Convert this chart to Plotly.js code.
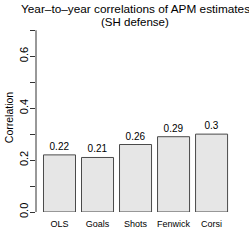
<!DOCTYPE html>
<html>
<head>
<meta charset="utf-8">
<script src="https://cdn.plot.ly/plotly-3.0.1.min.js"></script>
<style>html,body{margin:0;padding:0;background:#fff;}#chart{width:249px;height:249px;}</style>
</head>
<body>
<div id="chart"></div>
<script>
const categories = ["OLS", "Goals", "Shots", "Fenwick", "Corsi"];
const correlations = [0.22, 0.21, 0.26, 0.29, 0.3];
const barLabels = ["0.22", "0.21", "0.26", "0.29", "0.3"];
const titleLines = ["Year\u2013to\u2013year correlations of APM estimates", "(SH defense)"];

const FONT = '"Liberation Sans", Arial, Helvetica, sans-serif';

const trace = {
  type: 'bar',
  x: categories,
  y: correlations,
  text: barLabels,
  textposition: 'outside',
  textfont: {family: FONT, size: 10, color: '#000'},
  cliponaxis: false,
  marker: {color: '#e6e6e6', line: {color: '#4a4a4a', width: 1}},
  hoverinfo: 'none'
};

const layout = {
  width: 249, height: 249,
  margin: {l: 36, r: 15, t: 23, b: 37, pad: 0},
  paper_bgcolor: '#fff', plot_bgcolor: '#fff',
  font: {family: FONT, color: '#000'},
  showlegend: false,
  bargap: 0.158,
  xaxis: {
    type: 'category',
    range: [-0.618, 4.59],
    showline: false, showgrid: false, zeroline: false,
    ticks: '',
    tickfont: {family: FONT, size: 9, color: '#000'},
    ticklabelstandoff: 5
  },
  yaxis: {
    range: [0, 0.728],
    showline: false, showgrid: false, zeroline: false,
    tick0: 0, dtick: 0.2,
    tickformat: '.1f',
    ticks: 'outside', ticklen: 5, tickwidth: 1, tickcolor: '#333',
    minor: {dtick: 0.1, tick0: 0, ticks: 'outside', ticklen: 5, tickwidth: 1, tickcolor: '#333', showgrid: false},
    tickangle: -90,
    ticklabelstandoff: -2,
    tickfont: {family: FONT, size: 11, color: '#000'},
    title: {text: 'Correlation', font: {family: FONT, size: 10.5, color: '#000'}, standoff: 1}
  },
  shapes: [{
    type: 'line', xref: 'paper', yref: 'y',
    x0: 0, x1: 0, y0: 0, y1: 0.7,
    line: {color: '#333', width: 1}
  }],
  annotations: [
    {text: titleLines[0], xref: 'paper', yref: 'paper', x: 0.5, y: 1.072, xanchor: 'center', yanchor: 'middle',
     showarrow: false, font: {family: FONT, size: 11.8, color: '#000'}},
    {text: titleLines[1], xref: 'paper', yref: 'paper', x: 0.5, y: 1.005, xanchor: 'center', yanchor: 'middle',
     showarrow: false, font: {family: FONT, size: 11.5, color: '#000'}}
  ]
};

Plotly.newPlot('chart', [trace], layout, {staticPlot: true, displayModeBar: false});
</script>
</body>
</html>
